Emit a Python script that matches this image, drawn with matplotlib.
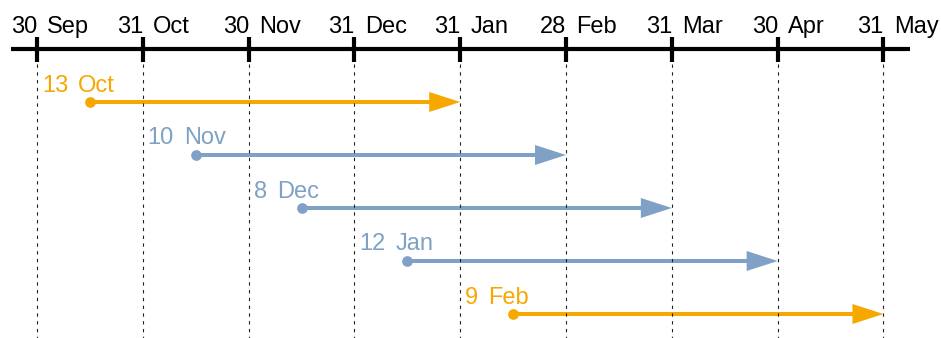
import matplotlib
matplotlib.use("Agg")
import matplotlib.pyplot as plt

plt.rcParams['font.family'] = ['Liberation Sans', 'DejaVu Sans']

# Datos: fin de mes en el eje (indice de mes) y flechas
mes_dias = ["30", "31", "30", "31", "31", "28", "31", "30", "31"]
mes_nombres = ["Sep", "Oct", "Nov", "Dec", "Jan", "Feb", "Mar", "Apr", "May"]
mes_pos = [0, 1, 2, 3, 4, 5, 6, 7, 8]

inicio_dias = ["13", "10", "8", "12", "9"]
inicio_meses = ["Oct", "Nov", "Dec", "Jan", "Feb"]
inicio_pos = [0.5, 1.5, 2.5, 3.5, 4.5]
fin_pos = [4, 5, 6, 7, 8]
tipo = ["naranja", "azul", "azul", "azul", "naranja"]

colores = {"naranja": "#F6A800", "azul": "#7EA1C5"}

fig = plt.figure(figsize=(9.41, 3.38), dpi=100)
ax = fig.add_axes([0, 0, 1, 1])
ax.set_xlim(-0.3497, 8.544)
ax.set_ylim(338, 0)
ax.axis("off")

px = 1 / 105.8  # un pixel en unidades de mes
fs = 17


def etiqueta(x0, y, dia, mes, color):
    t1 = ax.text(x0, y, dia, fontsize=fs, color=color, ha="left", va="baseline")
    fig.canvas.draw()
    bb = t1.get_window_extent()
    x1 = ax.transData.inverted().transform((bb.x1, 0))[0]
    ax.text(x1 + 10 * px, y, mes, fontsize=fs, color=color,
            ha="left", va="baseline")


# eje superior
eje_y = 49
ax.plot([-0.246, 8.25], [eje_y, eje_y], color="black", lw=3, solid_capstyle="butt")
for p, d, m in zip(mes_pos, mes_dias, mes_nombres):
    ax.plot([p, p], [37, 62], color="black", lw=3, solid_capstyle="butt")
    ax.plot([p, p], [64, 338], color="#222222", lw=0.8, ls=(0, (3, 4)))
    etiqueta(p - 26 * px, 33, d, m, "black")

# flechas
fila_y = 102
for d, m, a, b, t in zip(inicio_dias, inicio_meses, inicio_pos, fin_pos, tipo):
    c = colores[t]
    ax.arrow(a, fila_y, b - a, 0, width=4, head_width=20, head_length=31 * px,
             length_includes_head=True, lw=0, color=c)
    ax.plot(a, fila_y, "o", color=c, ms=7.7, mew=0)
    etiqueta(a - 48 * px, fila_y - 10.5, d, m, c)
    fila_y += 53

fig.savefig("out.png", dpi=100)
